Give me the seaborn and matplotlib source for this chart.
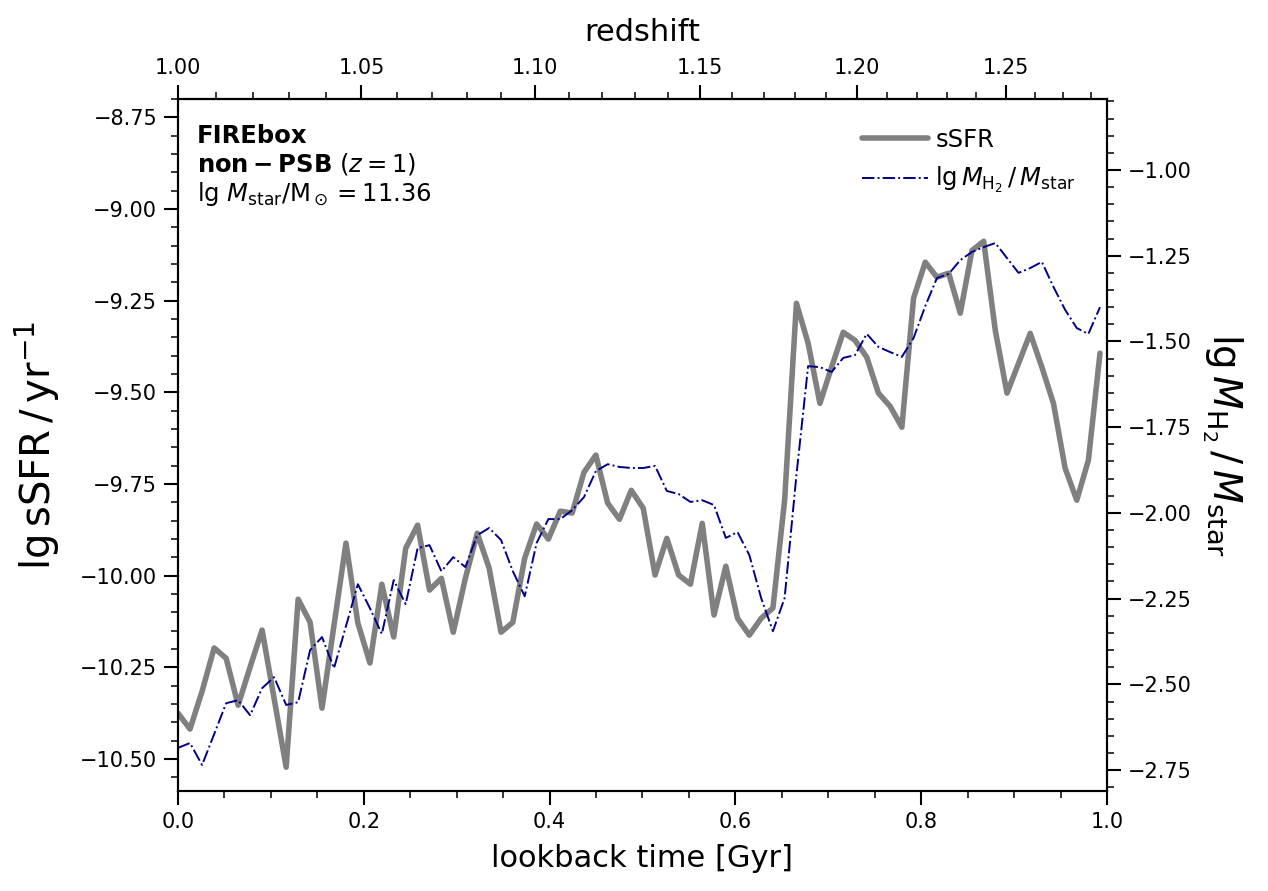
import numpy as np
import matplotlib
matplotlib.use("Agg")
import matplotlib.pyplot as plt
import seaborn as sns
import pandas as pd

# lookback time of each snapshot [Gyr]
lookback = [0.0000, 0.0129, 0.0259, 0.0389, 0.0518, 0.0647, 0.0776, 0.0905, 0.1034, 0.1164,
            0.1293, 0.1422, 0.1550, 0.1679, 0.1808, 0.1936, 0.2066, 0.2194, 0.2322, 0.2451,
            0.2579, 0.2707, 0.2835, 0.2963, 0.3093, 0.3221, 0.3349, 0.3477, 0.3604, 0.3732,
            0.3860, 0.3987, 0.4115, 0.4243, 0.4370, 0.4498, 0.4625, 0.4752, 0.4879, 0.5008,
            0.5135, 0.5262, 0.5389, 0.5516, 0.5643, 0.5770, 0.5897, 0.6023, 0.6150, 0.6277,
            0.6404, 0.6530, 0.6657, 0.6783, 0.6910, 0.7036, 0.7161, 0.7287, 0.7414, 0.7540,
            0.7666, 0.7792, 0.7918, 0.8044, 0.8170, 0.8296, 0.8421, 0.8547, 0.8673, 0.8798,
            0.8924, 0.9048, 0.9174, 0.9299, 0.9424, 0.9550, 0.9675, 0.9800, 0.9925]

# lg sSFR [yr^-1]
lg_ssfr = [-10.375, -10.418, -10.315, -10.197, -10.225, -10.353, -10.249, -10.148, -10.334, -10.522,
           -10.064, -10.127, -10.361, -10.135, -9.911, -10.129, -10.238, -10.023, -10.167, -9.925,
           -9.862, -10.039, -10.007, -10.154, -10.007, -9.884, -9.979, -10.154, -10.127, -9.952,
           -9.859, -9.900, -9.824, -9.829, -9.718, -9.671, -9.802, -9.846, -9.767, -9.816,
           -9.998, -9.898, -9.998, -10.023, -9.857, -10.107, -9.974, -10.116, -10.162, -10.116,
           -10.088, -9.794, -9.257, -9.366, -9.530, -9.431, -9.336, -9.358, -9.404, -9.502,
           -9.538, -9.595, -9.243, -9.145, -9.186, -9.175, -9.284, -9.113, -9.088, -9.331,
           -9.502, -9.421, -9.339, -9.431, -9.530, -9.707, -9.794, -9.685, -9.393]

# lg M_H2 / M_star
lg_fh2 = [-2.685, -2.671, -2.735, -2.645, -2.555, -2.546, -2.590, -2.511, -2.479, -2.560,
          -2.552, -2.400, -2.362, -2.453, -2.330, -2.208, -2.278, -2.353, -2.196, -2.266,
          -2.103, -2.094, -2.170, -2.129, -2.158, -2.065, -2.044, -2.079, -2.170, -2.243,
          -2.088, -2.018, -2.018, -1.992, -1.954, -1.878, -1.858, -1.866, -1.869, -1.869,
          -1.863, -1.936, -1.945, -1.968, -1.963, -1.977, -2.073, -2.056, -2.123, -2.248,
          -2.345, -2.248, -1.890, -1.572, -1.575, -1.589, -1.548, -1.540, -1.478, -1.516,
          -1.531, -1.545, -1.490, -1.397, -1.315, -1.303, -1.263, -1.239, -1.225, -1.213,
          -1.257, -1.300, -1.286, -1.268, -1.341, -1.408, -1.461, -1.478, -1.400]

z_ticks = [1.00, 1.05, 1.10, 1.15, 1.20, 1.25]

df = pd.DataFrame({"t": lookback, "ssfr": lg_ssfr, "fh2": lg_fh2})

# flat LCDM, lookback time measured from z = 1
H0, Om = 67.7, 0.31
zgrid = np.linspace(0.9, 1.5, 2001)
Ez = np.sqrt(Om * (1 + zgrid) ** 3 + (1 - Om))
integrand = 977.8 / H0 / ((1 + zgrid) * Ez)
tgrid = np.concatenate([[0], np.cumsum(0.5 * (integrand[1:] + integrand[:-1]) * np.diff(zgrid))])
tgrid = tgrid - np.interp(1.0, zgrid, tgrid)


def t2z(t):
    return np.interp(t, tgrid, zgrid)


def z2t(z):
    return np.interp(z, zgrid, tgrid)


sns.set_style("ticks")
plt.rcParams["font.family"] = ["DejaVu Sans"]
plt.rcParams["mathtext.fontset"] = "dejavusans"
for key in ["text.color", "axes.labelcolor", "xtick.color", "ytick.color", "axes.edgecolor"]:
    plt.rcParams[key] = "black"

fig = plt.figure(figsize=(12.68, 8.91), dpi=100)
ax = fig.add_axes([0.1404, 0.1122, 0.7326, 0.7767])
ax2 = ax.twinx()

sns.lineplot(data=df, x="t", y="ssfr", ax=ax, color="grey", lw=4, label="sSFR", legend=False)
sns.lineplot(data=df, x="t", y="fh2", ax=ax2, color="darkblue", lw=1.4, ls="-.",
             label=r"lg$\,M_{\rm H_2}\,/\,M_{\rm star}$", legend=False)

ax.set_xlim(0, 1)
ax.set_ylim(-10.587, -8.70)
ax2.set_ylim(-2.811, -0.793)

ax.set_xlabel("lookback time [Gyr]", fontsize=22, labelpad=9)
ax.set_ylabel(r"lg$\,$sSFR$\,/\,$yr$^{-1}$", fontsize=29, labelpad=13)
ax2.set_ylabel(r"lg$\,M_{\rm H_2}\,/\,M_{\rm star}$", fontsize=28, rotation=270,
               va="bottom", labelpad=6)

ax.set_xticks([0, 0.2, 0.4, 0.6, 0.8, 1.0])
ax.set_xticks(np.arange(0, 1.001, 0.05), minor=True)
ax.set_yticks([-8.75, -9.0, -9.25, -9.5, -9.75, -10.0, -10.25, -10.5])
ax.set_yticks(np.arange(-10.55, -8.70, 0.05), minor=True)
ax2.set_yticks([-1.0, -1.25, -1.5, -1.75, -2.0, -2.25, -2.5, -2.75])
ax2.set_yticks(np.arange(-2.80, -0.79, 0.05), minor=True)

top = ax.secondary_xaxis("top", functions=(t2z, z2t))
top.set_xticks(z_ticks)
top.set_xticks(np.arange(1.0, 1.28, 0.01), minor=True)
top.set_xticklabels([f"{z:.2f}" for z in z_ticks])
top.set_xlabel("redshift", fontsize=22, labelpad=12)

for a in (ax, ax2, top):
    a.tick_params(which="major", direction="out", length=10, width=1.5, labelsize=15, pad=5)
    a.tick_params(which="minor", direction="out", length=5, width=1.1)
for a in (ax, ax2):
    for s in a.spines.values():
        s.set_linewidth(1.5)
        s.set_color("black")
top.spines["top"].set_linewidth(1.5)

ax.text(0.02, 0.937, "FIREbox", transform=ax.transAxes, fontsize=17.5, fontweight="bold", va="baseline")
ax.text(0.02, 0.895, r"$\mathbf{non-PSB}$ $(z=1)$", transform=ax.transAxes, fontsize=17.5, va="baseline")
ax.text(0.02, 0.852, r"lg $M_{\rm star}/{\rm M}_\odot=11.36$", transform=ax.transAxes, fontsize=17.5,
        va="baseline")

h1, l1 = ax.get_legend_handles_labels()
h2, l2 = ax2.get_legend_handles_labels()
ax2.legend(h1 + h2, l1 + l2, loc="upper right", frameon=False, fontsize=17.5,
           handlelength=2.7, handletextpad=0.3, labelspacing=0.55, bbox_to_anchor=(0.99, 0.99))

fig.savefig("out.png", dpi=100)
